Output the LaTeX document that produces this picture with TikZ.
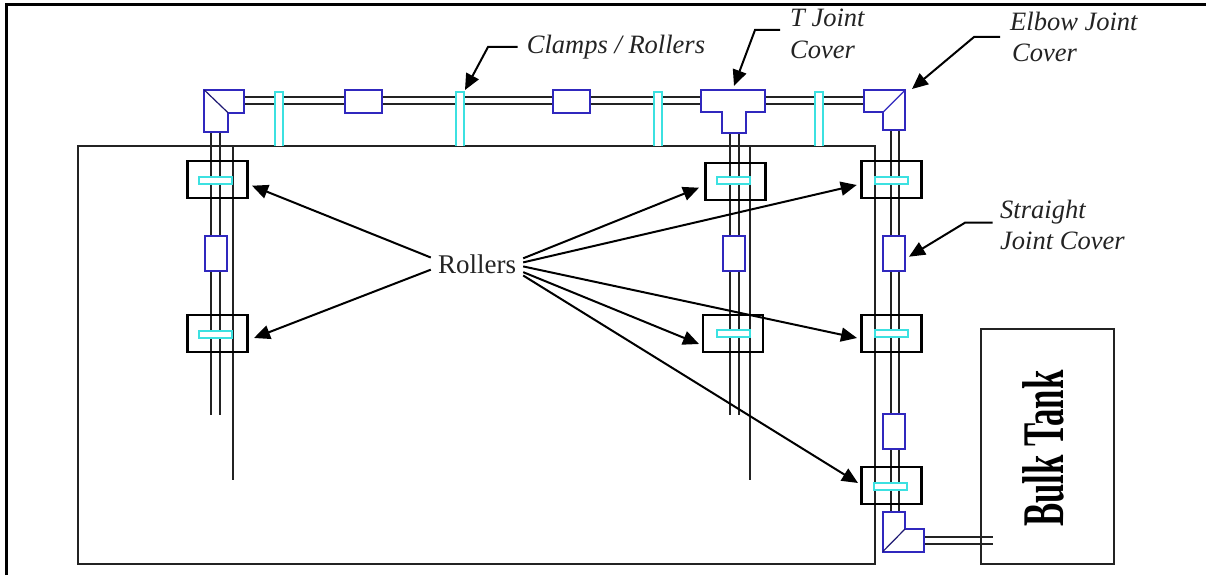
\documentclass[tikz,border=0pt]{standalone}
\usepackage{fontspec}
\setmainfont{Liberation Serif}
\usetikzlibrary{arrows.meta}
\definecolor{jointblue}{RGB}{48,40,190}
\definecolor{clampcyan}{RGB}{60,225,225}
\definecolor{pipegray}{RGB}{35,35,35}
\tikzset{
pipe/.style={draw=pipegray,line width=2pt},
wall/.style={draw=pipegray,line width=1.8pt},
joint/.style={draw=jointblue,line width=2pt,fill=white},
clampv/.style={draw=clampcyan,line width=2pt,fill=white},
rollerbox/.style={draw=black,line width=2.2pt,minimum width=60pt,minimum height=37pt,inner sep=0pt},
straightv/.style={draw=jointblue,line width=2pt,fill=white,minimum width=22pt,minimum height=35pt,inner sep=0pt},
straighth/.style={draw=jointblue,line width=2pt,fill=white,minimum width=37pt,minimum height=22.5pt,inner sep=0pt},
clamph/.style={draw=clampcyan,line width=2pt,fill=white,minimum width=33pt,minimum height=7pt,inner sep=0pt},
callout/.style={font=\fontsize{26.5}{31}\selectfont\itshape,text=pipegray,anchor=base west,inner sep=0pt},
leader/.style={-{Triangle[length=16pt,width=14pt]},line width=2pt}
}
\begin{document}
\begin{tikzpicture}[x=1pt,y=-1pt]
\useasboundingbox (0,0) rectangle (1206,575);
% frame and walls
\draw[black,line width=3pt] (6.5,575) -- (6.5,4.5) -- (1206,4.5);
\draw[wall] (78,146) rectangle (875,564);
\node[wall,minimum width=133pt,minimum height=235pt,inner sep=0pt] (tank) at (1047.5,446.5) {};
\node[anchor=base west,rotate=90,inner sep=0pt,font=\fontsize{59}{59}\selectfont\bfseries] (tanklabel) at (1063,527) {\scalebox{0.59}[1]{Bulk Tank}};
% pipes
\foreach \px in {211,220,729.5,739} \draw[pipe] (\px,125) -- (\px,415);
\foreach \px in {232.7,750} \draw[pipe] (\px,146) -- (\px,480);
\foreach \px in {891,899} \draw[pipe] (\px,125) -- (\px,515);
\foreach \py in {96.7,104.3} \draw[pipe] (240,\py) -- (868,\py);
\foreach \py in {537,543.7} \draw[pipe] (920,\py) -- (992.7,\py);
% clamps on the top run
\foreach \px in {275,456,654,814.5} \draw[clampv] (\px,146) -- (\px,92.5) -- (\px+8,92.5) -- (\px+8,146);
% joint covers
\draw[joint] (204.3,90) -- (244,90) -- (244,112.7) -- (228,112.7) -- (228,131.7) -- (204.3,131.7) -- cycle;
\draw[jointblue!60!black,line width=1.2pt] (204.3,90) -- (228,112.7);
\draw[joint] (700.7,90) -- (764.7,90) -- (764.7,112.3) -- (745.7,112.3) -- (745.7,133) -- (721.7,133) -- (721.7,112.3) -- (700.7,112.3) -- cycle;
\draw[joint] (863.7,90) -- (905.3,90) -- (905.3,130) -- (883.3,130) -- (883.3,112) -- (863.7,112) -- cycle;
\draw[jointblue,line width=1.2pt] (905.3,90) -- (883.3,112);
\draw[joint] (882.7,511.7) -- (905,511.7) -- (905,529) -- (924,529) -- (924,551.7) -- (882.7,551.7) -- cycle;
\draw[jointblue!60!black,line width=1.2pt] (882.7,551.7) -- (905,529);
\node[straighth] (jointa) at (363.5,101.3) {};
\node[straighth] (jointb) at (571.5,101.3) {};
\node[straightv] (jointc) at (215.5,253) {};
\node[straightv] (jointd) at (733.7,253.3) {};
\node[straightv] (jointe) at (894,253) {};
\node[straightv] (jointf) at (894,431.5) {};
% roller boxes
\node[rollerbox] (boxa) at (217.5,179.7) {};
\node[rollerbox] (boxb) at (217.5,333.3) {};
\node[rollerbox] (boxc) at (735.5,181.8) {};
\node[rollerbox] (boxd) at (733.3,333.3) {};
\node[rollerbox] (boxe) at (891.5,179.7) {};
\node[rollerbox] (boxf) at (891.5,333.3) {};
\node[rollerbox] (boxg) at (891.5,485.5) {};
\node[clamph] (clampa) at (215.5,180.4) {};
\node[clamph] (clampb) at (215.5,334) {};
\node[clamph] (clampc) at (733.4,180.6) {};
\node[clamph] (clampd) at (733.4,333.5) {};
\node[clamph] (clampe) at (891.4,180.6) {};
\node[clamph] (clampf) at (891.4,333) {};
\node[clamph] (clampg) at (890.4,486.5) {};
% labels
\node[inner sep=0pt,minimum width=92pt,minimum height=26pt,text=pipegray,font=\fontsize{27}{27}\selectfont] (rollers) at (477,264) {Rollers};
\node[callout] (clampslabel) at (526.7,54) {Clamps / Rollers};
\node[callout] (tjointa) at (790,26.7) {T Joint};
\node[callout] (tjointb) at (790,58.3) {Cover};
\node[callout] (elbowa) at (1010,30.7) {Elbow Joint};
\node[callout] (elbowb) at (1012,61.7) {Cover};
\node[callout] (straighta) at (1000,218) {Straight};
\node[callout] (straightb) at (1000,249) {Joint Cover};
% arrow tips
\coordinate (tipa) at (252,185.7);
\coordinate (tipb) at (254,338);
\coordinate (tipc) at (699,187.7);
\coordinate (tipd) at (856.7,185);
\coordinate (tipe) at (857,338);
\coordinate (tipf) at (699,344);
\coordinate (tipg) at (858,483);
\path[leader]
(rollers.172.6) edge (tipa)
(rollers.187.4) edge (tipb)
(rollers.7.4) edge (tipc)
(rollers.2.5) edge (tipd)
(rollers.-3.7) edge (tipe)
(rollers.-10) edge (tipf)
(rollers.-14.6) edge (tipg);
% bent leaders
\coordinate (clampsbend) at (488,47);
\coordinate (clampstip) at (465,90);
\coordinate (clampsstart) at (517.7,47);
\coordinate (tbend) at (755,30);
\coordinate (ttip) at (734,86);
\coordinate (tstart) at (780,30);
\coordinate (elbowbend) at (974,37);
\coordinate (elbowtip) at (912,89);
\coordinate (elbowstart) at (1000,37);
\coordinate (straightbend) at (965,222.7);
\coordinate (straighttip) at (909,256.7);
\coordinate (straightstart) at (992.7,222.7);
\draw[leader] (clampsstart) -- (clampsbend) -- (clampstip);
\draw[leader] (tstart) -- (tbend) -- (ttip);
\draw[leader] (elbowstart) -- (elbowbend) -- (elbowtip);
\draw[leader] (straightstart) -- (straightbend) -- (straighttip);
\end{tikzpicture}
\end{document}
